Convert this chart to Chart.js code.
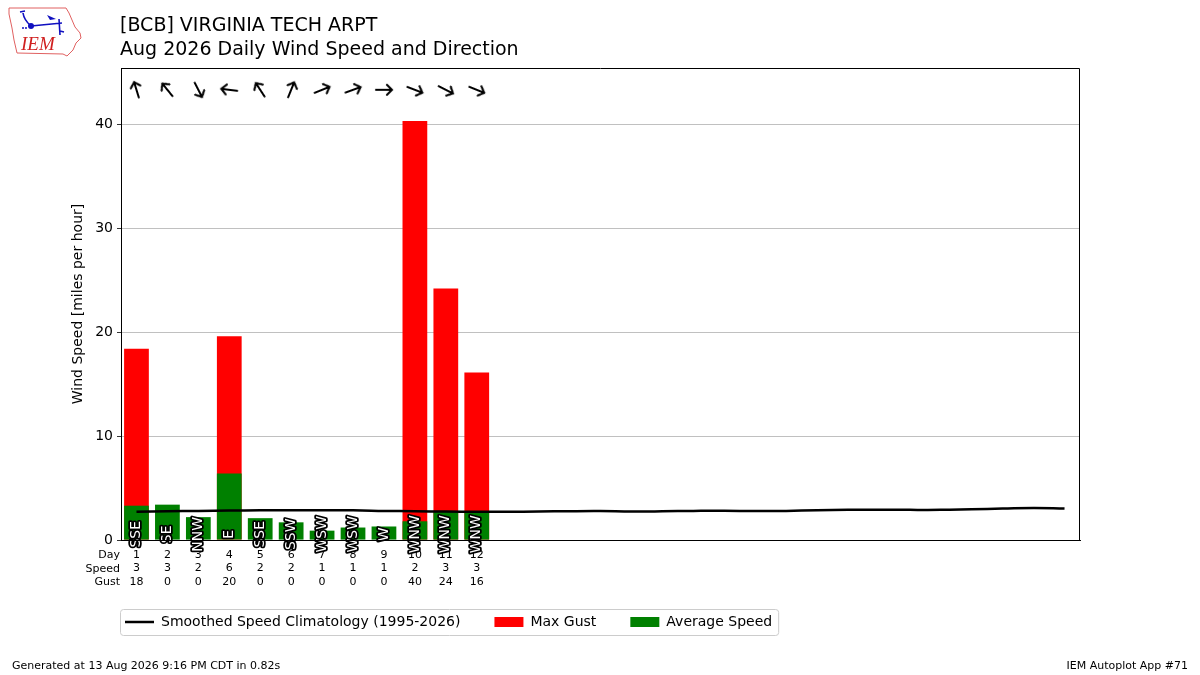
<!DOCTYPE html>
<html>
<head>
<meta charset="utf-8">
<script src="https://cdn.jsdelivr.net/npm/chart.js@4.4.1/dist/chart.umd.min.js"></script>
<style>
  html, body { margin: 0; padding: 0; background: #fff; }
</style>
</head>
<body>
<canvas id="wind_chart" width="1200" height="675"></canvas>
<script>
const days = [
  "1", "2", "3", "4", "5", "6", "7", "8", "9", "10", "11", "12", "13", "14", "15", "16",
  "17", "18", "19", "20", "21", "22", "23", "24", "25", "26", "27", "28", "29", "30", "31",
];
const climatology = [
  2.72, 2.76, 2.8, 2.83, 2.86, 2.86, 2.85, 2.85, 2.8, 2.76, 2.74, 2.72, 2.72, 2.74, 2.77, 2.78,
  2.74, 2.76, 2.8, 2.82, 2.78, 2.8, 2.86, 2.9, 2.92, 2.9, 2.9, 2.96, 3.02, 3.08, 3.03,
];
const avgSpeed = [3.3, 3.4, 2.2, 6.4, 2.1, 1.7, 0.9, 1.2, 1.3, 1.8, 2.7, 2.7];
const maxGust = [18.4, 0, 0, 19.6, 0, 0, 0, 0, 0, 40.3, 24.2, 16.1];
const dirText = ["SSE", "SE", "NNW", "E", "SSE", "SSW", "WSW", "WSW", "W", "WNW", "WNW", "WNW"];
const dirDeg = [163, 141, 333, 97, 147, 202, 248, 250, 270, 291, 297, 292];
const speedLabels = [3, 3, 2, 6, 2, 2, 1, 1, 1, 2, 3, 3];
const gustLabels = [18, 0, 0, 20, 0, 0, 0, 0, 0, 40, 24, 16];

// layout (pixels)
const plotLeft = 121;
const plotTop = 68;
const plotRight = 1080;
const plotBottom = 540;
const arrowLevel = 43.3;
const FONT = "DejaVu Sans";

// arrow glyph pointing north, rotated per point
const arrowImg = document.createElement("canvas");
arrowImg.width = 22;
arrowImg.height = 22;
{
  const c = arrowImg.getContext("2d");
  c.strokeStyle = "#000";
  c.lineWidth = 2;
  c.lineCap = "round";
  c.beginPath();
  c.moveTo(11, 19);
  c.lineTo(11, 3);
  c.moveTo(6, 8);
  c.lineTo(11, 3);
  c.lineTo(16, 8);
  c.stroke();
}

const decor = {
  id: "decor",
  afterLayout(chart) {
    const lg = chart.legend;
    lg.left = 91;
    lg.right = lg.left + lg.width;
    lg.top = 581;
    lg.bottom = lg.top + lg.height;
  },
  afterDatasetsDraw(chart) {
    const { ctx, chartArea: a, scales: { x, y } } = chart;
    ctx.save();
    // direction labels inside bars
    ctx.font = "14px '" + FONT + "'";
    ctx.textAlign = "center";
    ctx.textBaseline = "middle";
    ctx.lineJoin = "round";
    dirText.forEach((t, i) => {
      ctx.save();
      ctx.translate(x.getPixelForValue(i), y.getPixelForValue(0.55));
      ctx.rotate(-Math.PI / 2);
      ctx.strokeStyle = "#000";
      ctx.lineWidth = 3.5;
      ctx.strokeText(t, 0, 0);
      ctx.fillStyle = "#fff";
      ctx.fillText(t, 0, 0);
      ctx.restore();
    });
    // frame
    ctx.strokeStyle = "#000";
    ctx.lineWidth = 1;
    ctx.strokeRect(a.left + 0.5, a.top + 0.5, a.right - a.left - 1, a.bottom - a.top);
    ctx.restore();
  },
  afterDraw(chart) {
    const { ctx, chartArea: a } = chart;
    ctx.save();
    ctx.fillStyle = "#000";
    ctx.textBaseline = "alphabetic";
    ctx.textAlign = "left";
    ctx.font = "19px '" + FONT + "'";
    ctx.fillText("[BCB] VIRGINIA TECH ARPT", 120, 31);
    ctx.fillText("Aug 2026 Daily Wind Speed and Direction", 120, 55);

    ctx.font = "11px '" + FONT + "'";
    ctx.fillText("Generated at 13 Aug 2026 9:16 PM CDT in 0.82s", 12, 669);
    ctx.textAlign = "right";
    ctx.fillText("IEM Autoplot App #71", 1188, 669);

    // row headers of the tick table
    ctx.textBaseline = "middle";
    ["Day", "Speed", "Gust"].forEach((t, r) => {
      ctx.fillText(t, a.left - 1, a.bottom + 8 + 7.5 + r * 13.5);
    });

    // legend frame
    const hb = chart.legend.legendHitBoxes;
    if (hb && hb.length) {
      const last = hb[hb.length - 1];
      const l = hb[0].left - 5, r = last.left + last.width + 6;
      const t = hb[0].top - 6, b = hb[0].top + hb[0].height + 6;
      ctx.strokeStyle = "#cccccc";
      ctx.lineWidth = 1;
      ctx.beginPath();
      ctx.roundRect(l + 0.5, t + 0.5, r - l, b - t, 3);
      ctx.stroke();
    }

    // IEM logo
    ctx.strokeStyle = "#e06060";
    ctx.lineWidth = 1;
    ctx.beginPath();
    ctx.moveTo(9, 8);
    ctx.lineTo(66, 8);
    ctx.lineTo(69, 13);
    ctx.lineTo(72, 20);
    ctx.lineTo(75, 27);
    ctx.lineTo(80, 33);
    ctx.lineTo(81, 38);
    ctx.lineTo(76, 43);
    ctx.lineTo(73, 50);
    ctx.lineTo(67, 56);
    ctx.lineTo(63, 54);
    ctx.lineTo(17, 53);
    ctx.lineTo(14, 40);
    ctx.lineTo(12, 28);
    ctx.lineTo(9, 14);
    ctx.closePath();
    ctx.stroke();
    ctx.strokeStyle = "#1010c0";
    ctx.fillStyle = "#1010c0";
    ctx.lineWidth = 1.6;
    ctx.beginPath();
    ctx.moveTo(31, 26);
    ctx.lineTo(62, 23);
    ctx.moveTo(31, 26);
    ctx.quadraticCurveTo(24, 20, 23, 13);
    ctx.moveTo(20, 12);
    ctx.lineTo(25, 11);
    ctx.moveTo(59, 19);
    ctx.lineTo(60, 35);
    ctx.moveTo(60, 31);
    ctx.lineTo(64, 32);
    ctx.stroke();
    ctx.beginPath();
    ctx.arc(31, 26, 3, 0, Math.PI * 2);
    ctx.fill();
    ctx.beginPath();
    ctx.arc(23, 28, 1, 0, Math.PI * 2);
    ctx.arc(26, 28, 1, 0, Math.PI * 2);
    ctx.fill();
    ctx.beginPath();
    ctx.moveTo(47, 15);
    ctx.lineTo(56, 19);
    ctx.lineTo(50, 20);
    ctx.closePath();
    ctx.fill();
    ctx.fillStyle = "#d02020";
    ctx.textAlign = "left";
    ctx.textBaseline = "alphabetic";
    ctx.font = "italic 19px 'Liberation Serif'";
    ctx.fillText("IEM", 21, 50);
    ctx.restore();
  },
};

const ctx = document.getElementById("wind_chart");

const config = {
  data: {
    labels: days,
    datasets: [
      {
        type: "line",
        label: "Smoothed Speed Climatology (1995-2026)",
        data: climatology,
        borderColor: "#000",
        borderWidth: 2.5,
        pointRadius: 0,
        tension: 0.4,
        order: 0,
      },
      {
        type: "bar",
        label: "Max Gust",
        data: maxGust,
        backgroundColor: "#ff0000",
        grouped: false,
        barPercentage: 0.8,
        categoryPercentage: 1.0,
        order: 2,
      },
      {
        type: "bar",
        label: "Average Speed",
        data: avgSpeed,
        backgroundColor: "#008000",
        grouped: false,
        barPercentage: 0.8,
        categoryPercentage: 1.0,
        order: 1,
      },
      {
        type: "line",
        label: "direction",
        data: dirDeg.map(() => arrowLevel),
        showLine: false,
        pointStyle: arrowImg,
        pointRadius: 6,
        pointRotation: dirDeg.map((d) => (d + 180) % 360),
        order: 0,
      },
    ],
  },
  plugins: [decor],
  options: {
    responsive: false,
    animation: false,
    events: [],
    layout: {
      padding: { left: 0, top: plotTop, right: 1200 - plotRight, bottom: 0 },
    },
    plugins: {
      title: { display: false },
      tooltip: { enabled: false },
      legend: {
        display: true,
        position: "bottom",
        align: "start",
        labels: {
          usePointStyle: true,
          pointStyleWidth: 29,
          boxHeight: 10,
          padding: 34,
          color: "#000",
          font: { family: FONT, size: 14 },
          filter: (item) => item.datasetIndex !== 3,
          sort: (a, b) => a.datasetIndex - b.datasetIndex,
          generateLabels: (chart) =>
            Chart.defaults.plugins.legend.labels.generateLabels(chart).map((item) => {
              if (item.datasetIndex === 0) {
                item.pointStyle = "line";
                item.strokeStyle = "#000";
                item.lineWidth = 2.5;
              } else {
                item.pointStyle = "rect";
                item.lineWidth = 0;
              }
              return item;
            }),
        },
      },
    },
    scales: {
      x: {
        type: "category",
        offset: true,
        grid: { display: false, drawTicks: false },
        border: { display: true, color: "#000", width: 1 },
        afterFit: (s) => {
          s.height = s.chart.height - plotBottom - s.chart.legend.height;
        },
        ticks: {
          autoSkip: false,
          maxRotation: 0,
          padding: 8,
          color: "#000",
          font: { family: FONT, size: 11, lineHeight: 1.227 },
          callback: (v, i) =>
            i < speedLabels.length ? [days[i], String(speedLabels[i]), String(gustLabels[i])] : "",
        },
      },
      y: {
        min: 0,
        max: 45.4,
        afterFit: (s) => {
          s.width = plotLeft;
        },
        grid: { color: "#b0b0b0", lineWidth: 0.8, tickLength: 4, tickColor: "#000" },
        border: { display: true, color: "#000", width: 1 },
        ticks: {
          stepSize: 10,
          includeBounds: false,
          padding: 4,
          color: "#000",
          font: { family: FONT, size: 14 },
        },
        title: {
          display: true,
          text: "Wind Speed [miles per hour]",
          color: "#000",
          font: { family: FONT, size: 14 },
          padding: { top: 70, bottom: 0 },
        },
      },
    },
  },
};

Chart.defaults.font.family = FONT;
new Chart(ctx, config);
</script>
</body>
</html>
